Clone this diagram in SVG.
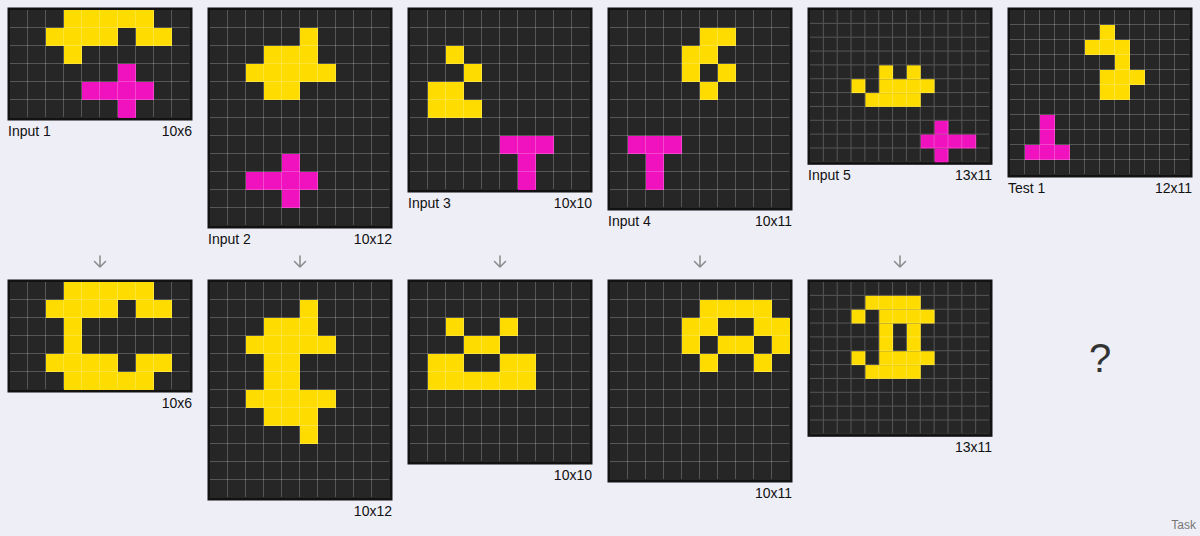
<svg xmlns="http://www.w3.org/2000/svg" width="1200" height="536" viewBox="0 0 1200 536">
<style>
.frame{fill:#121212}
.bg{fill:#262626}
.y{fill:#FFDC00}
.m{fill:#F012BE}
.lbl{font-family:"Liberation Sans",Arial,sans-serif;font-size:14px;fill:#111}
.arr{fill:none;stroke:#8a8a8a;stroke-width:1.5;stroke-linecap:round;stroke-linejoin:round}
</style>
<defs>
<pattern id="g18" width="18" height="18" patternUnits="userSpaceOnUse"><path d="M17.5 0V18M0 17.5H18" stroke="#fff" stroke-opacity="0.22" stroke-width="1" fill="none"/></pattern>
<pattern id="g13" width="13.8462" height="13.8462" patternUnits="userSpaceOnUse"><path d="M13.3462 0V13.8462M0 13.3462H13.8462" stroke="#fff" stroke-opacity="0.22" stroke-width="1" fill="none"/></pattern>
<pattern id="g15" width="15" height="15" patternUnits="userSpaceOnUse"><path d="M14.5 0V15M0 14.5H15" stroke="#fff" stroke-opacity="0.22" stroke-width="1" fill="none"/></pattern>
</defs>
<rect width="1200" height="536" fill="#eeeef6"/>

<g id="input-1" transform="translate(10,10)">
<rect class="frame" x="-2.5" y="-2.5" width="185" height="113"/>
<rect class="bg" width="180" height="108"/>
<rect class="y" x="54" y="0" width="90" height="18"/>
<rect class="y" x="36" y="18" width="72" height="18"/>
<rect class="y" x="126" y="18" width="36" height="18"/>
<rect class="y" x="54" y="36" width="18" height="18"/>
<rect class="m" x="108" y="54" width="18" height="18"/>
<rect class="m" x="72" y="72" width="72" height="18"/>
<rect class="m" x="108" y="90" width="18" height="18"/>
<rect fill="url(#g18)" width="179" height="107"/>
<text class="lbl" x="-2" y="126">Input 1</text>
<text class="lbl" x="182" y="126" text-anchor="end">10x6</text>
</g>

<g id="input-2" transform="translate(210,10)">
<rect class="frame" x="-2.5" y="-2.5" width="185" height="221"/>
<rect class="bg" width="180" height="216"/>
<rect class="y" x="90" y="18" width="18" height="18"/>
<rect class="y" x="54" y="36" width="54" height="18"/>
<rect class="y" x="36" y="54" width="90" height="18"/>
<rect class="y" x="54" y="72" width="36" height="18"/>
<rect class="m" x="72" y="144" width="18" height="18"/>
<rect class="m" x="36" y="162" width="72" height="18"/>
<rect class="m" x="72" y="180" width="18" height="18"/>
<rect fill="url(#g18)" width="179" height="215"/>
<text class="lbl" x="-2" y="234">Input 2</text>
<text class="lbl" x="182" y="234" text-anchor="end">10x12</text>
</g>

<g id="input-3" transform="translate(410,10)">
<rect class="frame" x="-2.5" y="-2.5" width="185" height="185"/>
<rect class="bg" width="180" height="180"/>
<rect class="y" x="36" y="36" width="18" height="18"/>
<rect class="y" x="54" y="54" width="18" height="18"/>
<rect class="y" x="18" y="72" width="36" height="18"/>
<rect class="y" x="18" y="90" width="54" height="18"/>
<rect class="m" x="90" y="126" width="54" height="18"/>
<rect class="m" x="108" y="144" width="18" height="36"/>
<rect fill="url(#g18)" width="179" height="179"/>
<text class="lbl" x="-2" y="198">Input 3</text>
<text class="lbl" x="182" y="198" text-anchor="end">10x10</text>
</g>

<g id="input-4" transform="translate(610,10)">
<rect class="frame" x="-2.5" y="-2.5" width="185" height="203"/>
<rect class="bg" width="180" height="198"/>
<rect class="y" x="90" y="18" width="36" height="18"/>
<rect class="y" x="72" y="36" width="36" height="18"/>
<rect class="y" x="72" y="54" width="18" height="18"/>
<rect class="y" x="108" y="54" width="18" height="18"/>
<rect class="y" x="90" y="72" width="18" height="18"/>
<rect class="m" x="18" y="126" width="54" height="18"/>
<rect class="m" x="36" y="144" width="18" height="36"/>
<rect fill="url(#g18)" width="179" height="197"/>
<text class="lbl" x="-2" y="216">Input 4</text>
<text class="lbl" x="182" y="216" text-anchor="end">10x11</text>
</g>

<g id="input-5" transform="translate(810,10)">
<rect class="frame" x="-2.5" y="-2.5" width="185" height="157.31"/>
<rect class="bg" width="180" height="152.31"/>
<rect class="y" x="69.231" y="55.385" width="13.846" height="13.846"/>
<rect class="y" x="96.923" y="55.385" width="13.846" height="13.846"/>
<rect class="y" x="41.538" y="69.231" width="13.846" height="13.846"/>
<rect class="y" x="69.231" y="69.231" width="55.385" height="13.846"/>
<rect class="y" x="55.385" y="83.077" width="55.385" height="13.846"/>
<rect class="m" x="124.615" y="110.769" width="13.846" height="13.846"/>
<rect class="m" x="110.769" y="124.615" width="55.385" height="13.846"/>
<rect class="m" x="124.615" y="138.462" width="13.846" height="13.846"/>
<rect fill="url(#g13)" width="179" height="151.31"/>
<text class="lbl" x="-2" y="170.3">Input 5</text>
<text class="lbl" x="182" y="170.3" text-anchor="end">13x11</text>
</g>

<g id="test-1" transform="translate(1010,10)">
<rect class="frame" x="-2.5" y="-2.5" width="185" height="170"/>
<rect class="bg" width="180" height="165"/>
<rect class="y" x="90" y="15" width="15" height="15"/>
<rect class="y" x="75" y="30" width="45" height="15"/>
<rect class="y" x="105" y="45" width="15" height="15"/>
<rect class="y" x="90" y="60" width="45" height="15"/>
<rect class="y" x="90" y="75" width="30" height="15"/>
<rect class="m" x="30" y="105" width="15" height="30"/>
<rect class="m" x="15" y="135" width="45" height="15"/>
<rect fill="url(#g15)" width="179" height="164"/>
<text class="lbl" x="-2" y="183">Test 1</text>
<text class="lbl" x="182" y="183" text-anchor="end">12x11</text>
</g>

<g id="output-1" transform="translate(10,282)">
<rect class="frame" x="-2.5" y="-2.5" width="185" height="113"/>
<rect class="bg" width="180" height="108"/>
<rect class="y" x="54" y="0" width="90" height="18"/>
<rect class="y" x="36" y="18" width="72" height="18"/>
<rect class="y" x="126" y="18" width="36" height="18"/>
<rect class="y" x="54" y="36" width="18" height="36"/>
<rect class="y" x="36" y="72" width="72" height="18"/>
<rect class="y" x="126" y="72" width="36" height="18"/>
<rect class="y" x="54" y="90" width="90" height="18"/>
<rect fill="url(#g18)" width="179" height="107"/>
<text class="lbl" x="182" y="126" text-anchor="end">10x6</text>
</g>

<g id="output-2" transform="translate(210,282)">
<rect class="frame" x="-2.5" y="-2.5" width="185" height="221"/>
<rect class="bg" width="180" height="216"/>
<rect class="y" x="90" y="18" width="18" height="18"/>
<rect class="y" x="54" y="36" width="54" height="18"/>
<rect class="y" x="36" y="54" width="90" height="18"/>
<rect class="y" x="54" y="72" width="36" height="36"/>
<rect class="y" x="36" y="108" width="90" height="18"/>
<rect class="y" x="54" y="126" width="54" height="18"/>
<rect class="y" x="90" y="144" width="18" height="18"/>
<rect fill="url(#g18)" width="179" height="215"/>
<text class="lbl" x="182" y="234" text-anchor="end">10x12</text>
</g>

<g id="output-3" transform="translate(410,282)">
<rect class="frame" x="-2.5" y="-2.5" width="185" height="185"/>
<rect class="bg" width="180" height="180"/>
<rect class="y" x="36" y="36" width="18" height="18"/>
<rect class="y" x="90" y="36" width="18" height="18"/>
<rect class="y" x="54" y="54" width="36" height="18"/>
<rect class="y" x="18" y="72" width="36" height="18"/>
<rect class="y" x="90" y="72" width="36" height="18"/>
<rect class="y" x="18" y="90" width="108" height="18"/>
<rect fill="url(#g18)" width="179" height="179"/>
<text class="lbl" x="182" y="198" text-anchor="end">10x10</text>
</g>

<g id="output-4" transform="translate(610,282)">
<rect class="frame" x="-2.5" y="-2.5" width="185" height="203"/>
<rect class="bg" width="180" height="198"/>
<rect class="y" x="90" y="18" width="72" height="18"/>
<rect class="y" x="72" y="36" width="36" height="18"/>
<rect class="y" x="144" y="36" width="36" height="18"/>
<rect class="y" x="72" y="54" width="18" height="18"/>
<rect class="y" x="108" y="54" width="36" height="18"/>
<rect class="y" x="162" y="54" width="18" height="18"/>
<rect class="y" x="90" y="72" width="18" height="18"/>
<rect class="y" x="144" y="72" width="18" height="18"/>
<rect fill="url(#g18)" width="179" height="197"/>
<text class="lbl" x="182" y="216" text-anchor="end">10x11</text>
</g>

<g id="output-5" transform="translate(810,282)">
<rect class="frame" x="-2.5" y="-2.5" width="185" height="157.31"/>
<rect class="bg" width="180" height="152.31"/>
<rect class="y" x="55.385" y="13.846" width="55.385" height="13.846"/>
<rect class="y" x="41.538" y="27.692" width="13.846" height="13.846"/>
<rect class="y" x="69.231" y="27.692" width="55.385" height="13.846"/>
<rect class="y" x="69.231" y="41.538" width="13.846" height="27.692"/>
<rect class="y" x="96.923" y="41.538" width="13.846" height="27.692"/>
<rect class="y" x="41.538" y="69.231" width="13.846" height="13.846"/>
<rect class="y" x="69.231" y="69.231" width="55.385" height="13.846"/>
<rect class="y" x="55.385" y="83.077" width="55.385" height="13.846"/>
<rect fill="url(#g13)" width="179" height="151.31"/>
<text class="lbl" x="182" y="170.3" text-anchor="end">13x11</text>
</g>

<g id="test-output">
<text x="1100" y="372" text-anchor="middle" font-family="Liberation Sans, Arial, sans-serif" font-size="40" fill="#333">?</text>
</g>

<g id="connectors">
<path class="arr" d="M100 256V267M94.5 261.5L100 267L105.5 261.5"/>
<path class="arr" d="M300 256V267M294.5 261.5L300 267L305.5 261.5"/>
<path class="arr" d="M500 256V267M494.5 261.5L500 267L505.5 261.5"/>
<path class="arr" d="M700 256V267M694.5 261.5L700 267L705.5 261.5"/>
<path class="arr" d="M900 256V267M894.5 261.5L900 267L905.5 261.5"/>
</g>

<text x="1196" y="529" text-anchor="end" font-family="Liberation Sans, Arial, sans-serif" font-size="12" fill="#777">Task</text>
</svg>
